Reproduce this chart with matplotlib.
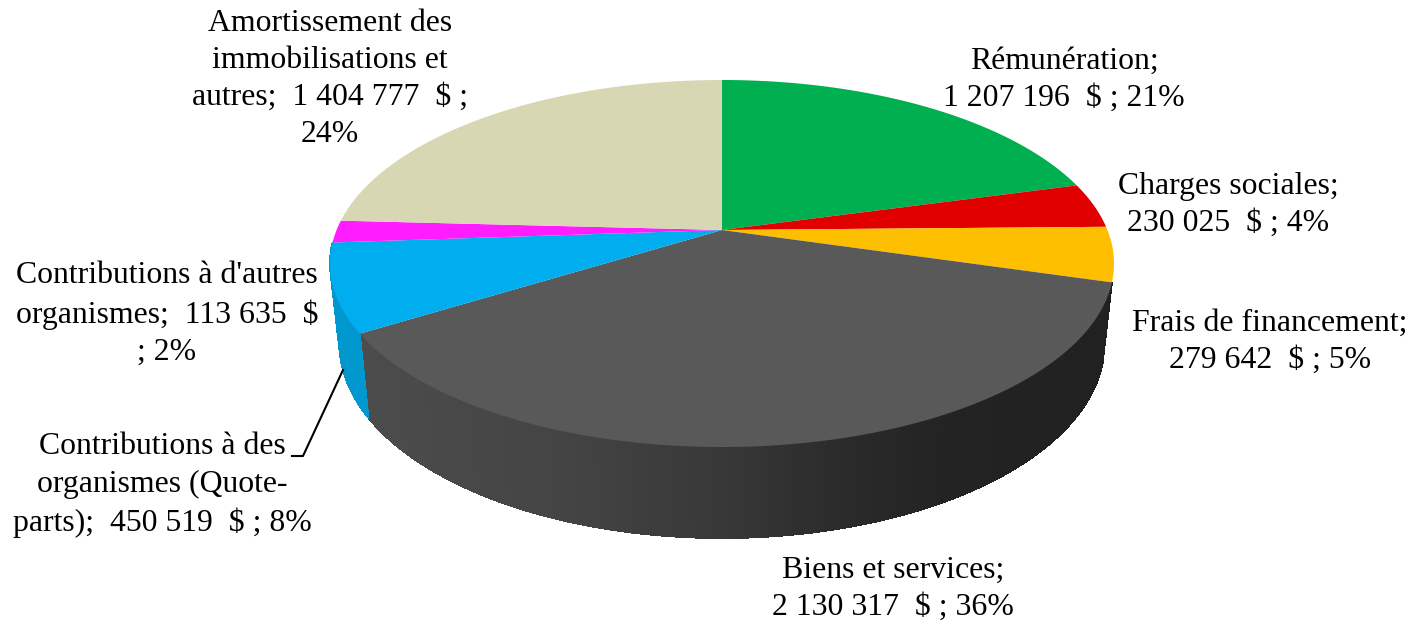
import numpy as np
import matplotlib
matplotlib.use('Agg')
import matplotlib.pyplot as plt

# budget values, clockwise from 12 o'clock
categories = ['Rémunération', 'Charges sociales', 'Frais de financement', 'Biens et services',
              'Contributions à des organismes (Quote-parts)', "Contributions à d'autres organismes",
              'Amortissement des immobilisations et autres']
values = [1207196, 230025, 279642, 2130317, 450519, 113635, 1404777]
colors = ['#00b050', '#e00000', '#fdbf00', '#595959', '#00aeef', '#ff1cff', '#d7d7b4']
labels = ['Rémunération;\n1 207 196  $ ; 21%',
          'Charges sociales;\n230 025  $ ; 4%',
          'Frais de financement;\n279 642  $ ; 5%',
          'Biens et services;\n2 130 317  $ ; 36%',
          'Contributions à des\norganismes (Quote-\nparts);  450 519  $ ; 8%',
          "Contributions à d'autres\norganismes;  113 635  $\n; 2%",
          'Amortissement des\nimmobilisations et\nautres;  1 404 777  $ ;\n24%']
label_pos = [(1064, 80), (1228, 205), (1270, 342), (893, 589), (162, 485), (167, 314), (330, 79)]

# perspective of the disc, in pixels
cx, cy = 722, 230
a, b, k = 385.4, 177.4, 0.1826


def top_rim(theta):
    x, y = np.sin(theta), np.cos(theta)
    w = 1 + k * y
    return a * x / w, -b * y / w


def bottom_rim(theta):
    x, y = top_rim(theta)
    return 0.976 * x, 1.06 * y + 78


def side_grey(px):
    return np.interp(px, [360, 560, 720, 850, 950, 1105], [0x4c, 0x44, 0x38, 0x2a, 0x23, 0x21]) / 255


fig = plt.figure(figsize=(14.18, 6.21), dpi=100)
ax = fig.add_axes([0, 0, 1, 1])
ax.set_xlim(0, 1418)
ax.set_ylim(621, 0)
ax.axis('off')

total = sum(values)
edges = 2 * np.pi * np.cumsum([0] + values) / total

# side wall, only two slices show it
# second pass without antialiasing hides the seams between the strips
for smooth in (True, False):
    for i, name in enumerate(categories):
        if i not in (3, 4):
            continue
        t = np.linspace(edges[i], edges[i + 1], 150)
        for t0, t1 in zip(t[:-1], t[1:]):
            xt, yt = top_rim(np.array([t0, t1]))
            xb, yb = bottom_rim(np.array([t1, t0]))
            px = cx + xt.mean()
            c = (side_grey(px),) * 3 if i == 3 else '#0098cf'
            ax.fill(cx + np.r_[xt, xb], cy + np.r_[yt, yb], color=c, lw=0.6, antialiased=smooth)

# top face
for i, name in enumerate(categories):
    t = np.linspace(edges[i], edges[i + 1], 200)
    x, y = top_rim(t)
    ax.fill(cx + np.r_[0, x], cy + np.r_[0, y], color=colors[i], lw=0)

# leader line
ax.plot([292, 303, 343], [456, 456, 370], color='black', lw=1.5)

for s, (lx, ly) in zip(labels, label_pos):
    ax.text(lx, ly, s, ha='center', va='center', family='Liberation Serif',
            fontsize=22.9, linespacing=1.37, color='black')

fig.savefig('out.png', dpi=100)
